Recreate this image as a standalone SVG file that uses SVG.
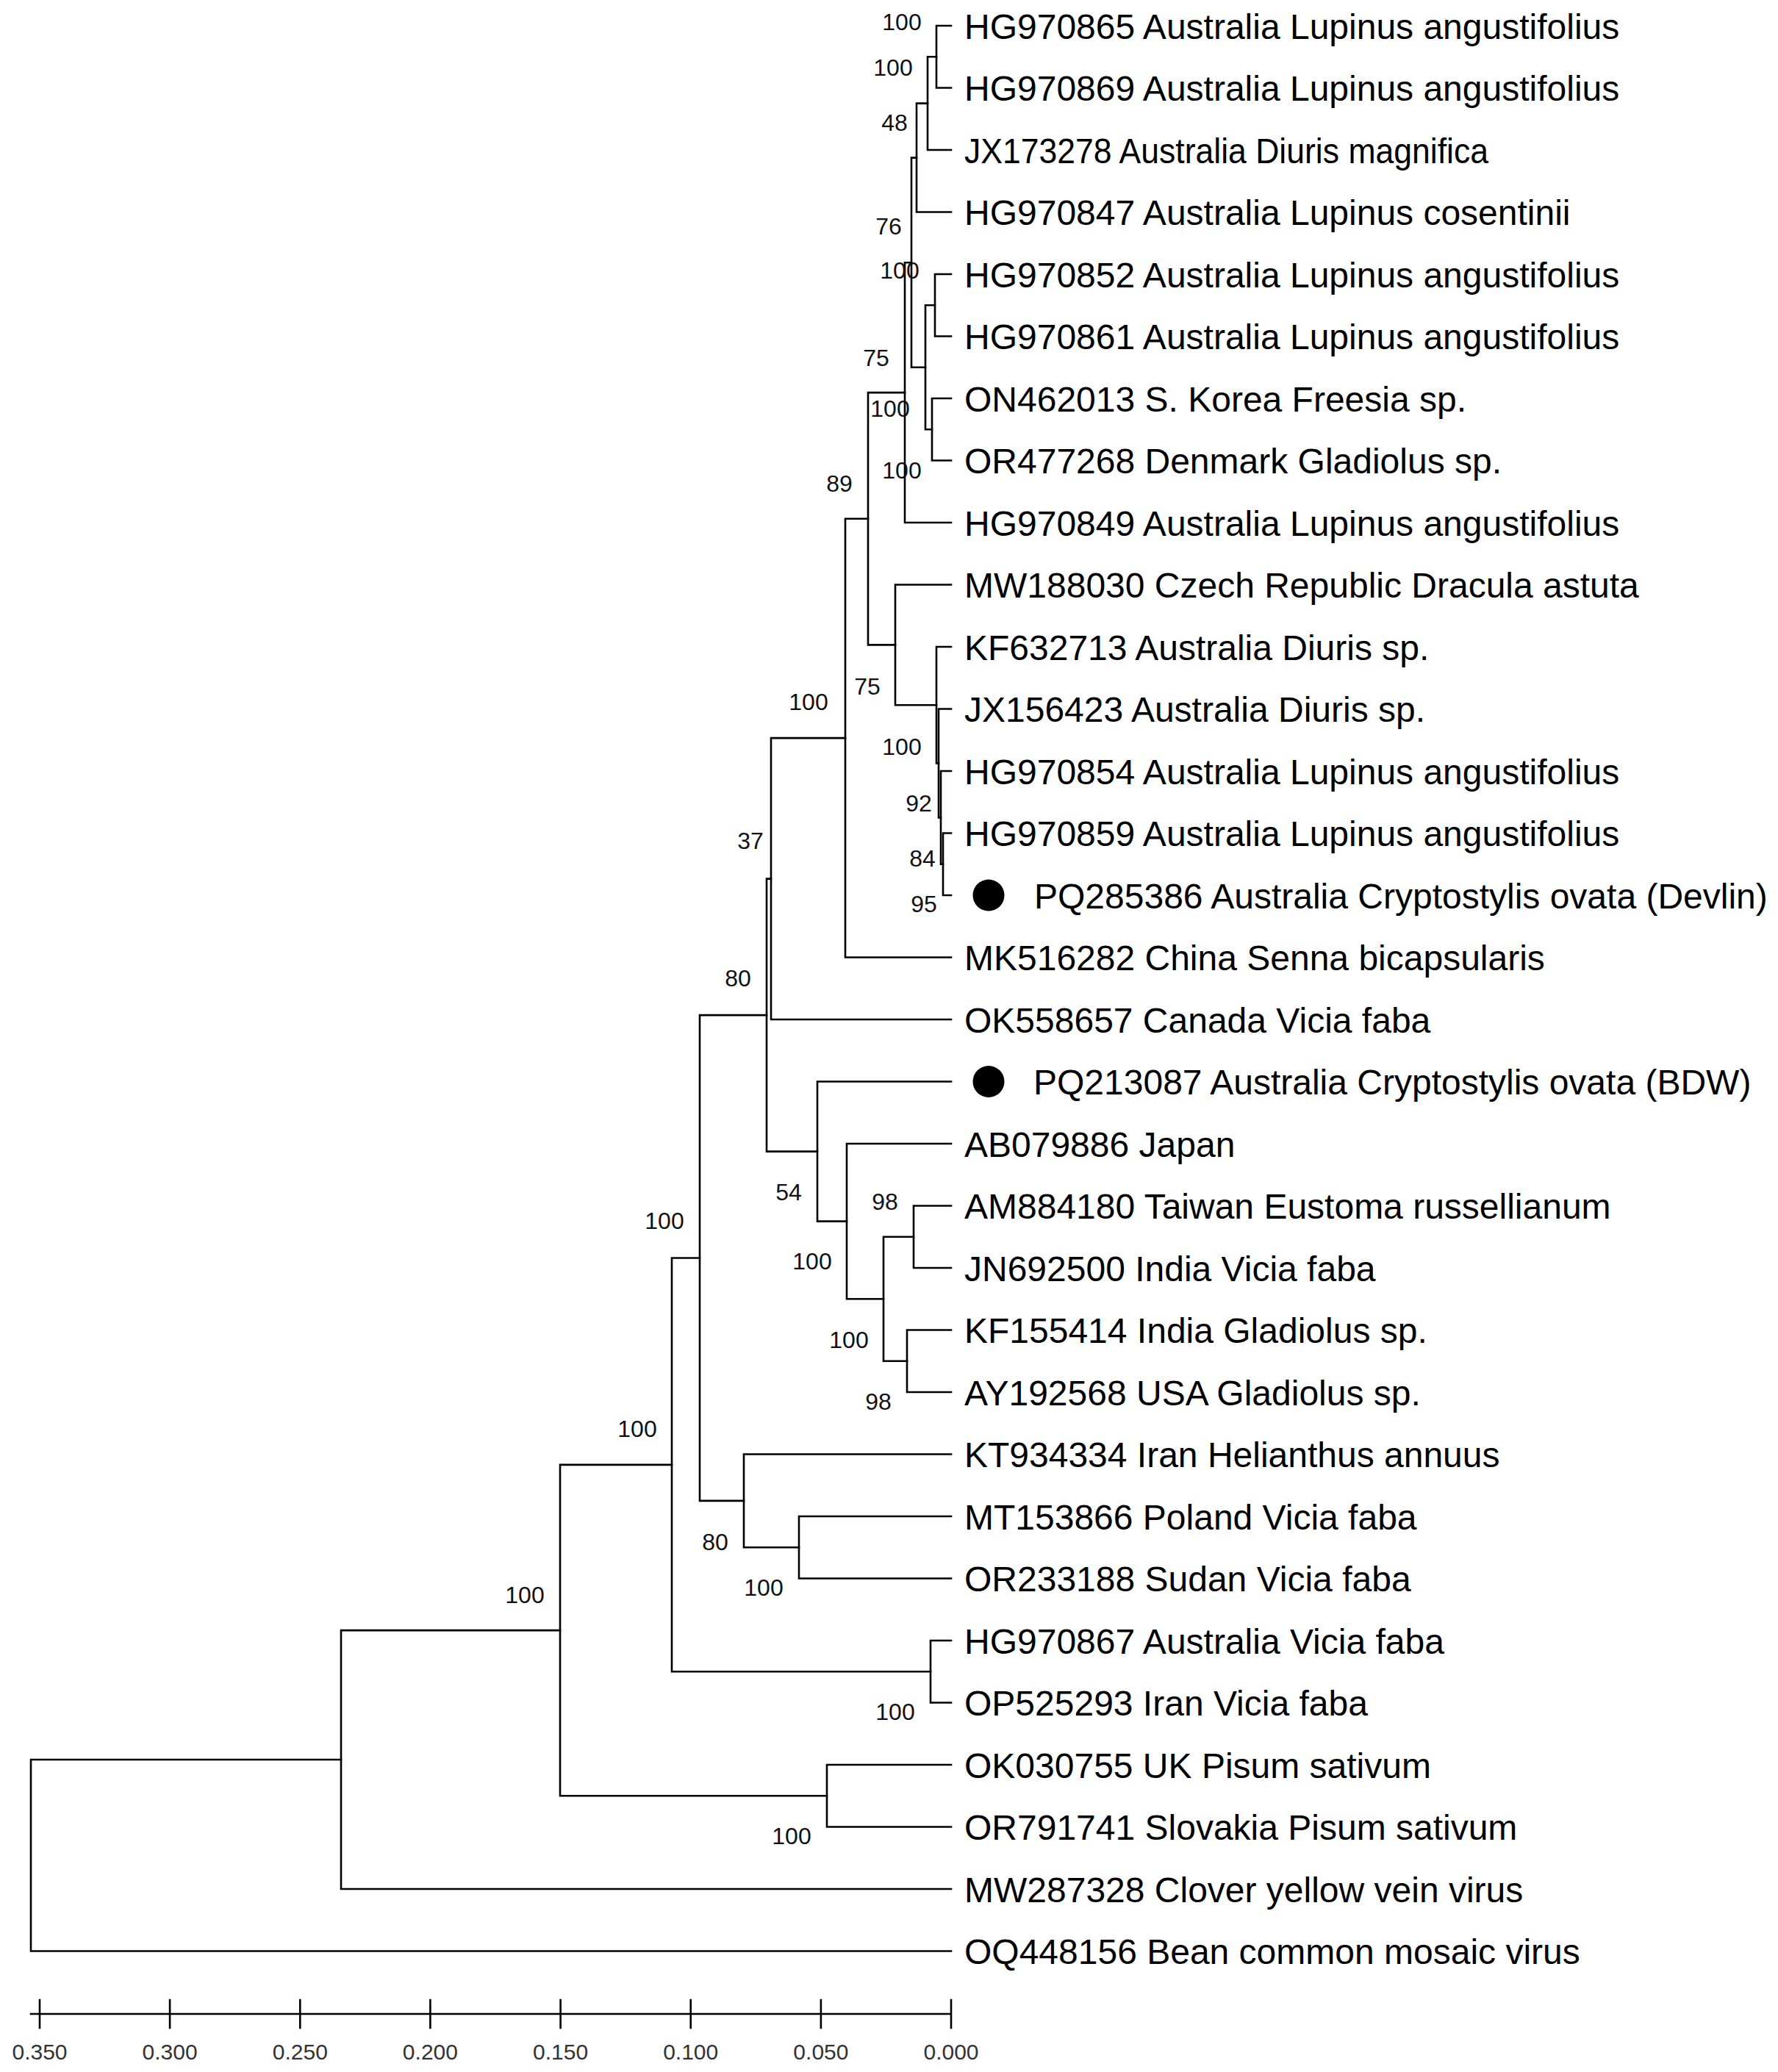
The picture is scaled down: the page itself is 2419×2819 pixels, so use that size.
<svg xmlns="http://www.w3.org/2000/svg" width="2419" height="2819" viewBox="0 0 2419 2819">
<style>
.br{fill:none;stroke:#000;stroke-width:2.6;stroke-linecap:square}
.tx{font-family:"Liberation Sans",Arial,sans-serif;font-size:48px;fill:#000}
.bs{font-family:"Liberation Sans",Arial,sans-serif;font-size:32px;fill:#111;text-anchor:middle}
.ax{font-family:"Liberation Sans",Arial,sans-serif;font-size:30px;fill:#333;text-anchor:middle}
.dot{fill:#000}
</style>
<rect width="2419" height="2819" fill="#fff"/>
<g id="connectors">
<path class="br" d="M1294 35 H1274 V119.5 H1294"/>
<path class="br" d="M1274 77.25 H1262 V204 H1294"/>
<path class="br" d="M1262 140.6 H1247 V288.5 H1294"/>
<path class="br" d="M1294 373 H1272 V457.5 H1294"/>
<path class="br" d="M1294 542 H1268 V626.5 H1294"/>
<path class="br" d="M1272 415.25 H1259 V584.25 H1268"/>
<path class="br" d="M1247 214.6 H1240 V499.75 H1259"/>
<path class="br" d="M1240 357.2 H1231 V711 H1294"/>
<path class="br" d="M1294 1133.5 H1283 V1218 H1294"/>
<path class="br" d="M1294 1049 H1280 V1175.75 H1283"/>
<path class="br" d="M1294 964.5 H1277 V1112.4 H1280"/>
<path class="br" d="M1294 880 H1274 V1038.4 H1277"/>
<path class="br" d="M1294 795.5 H1218 V959.2 H1274"/>
<path class="br" d="M1231 534.1 H1181 V877.4 H1218"/>
<path class="br" d="M1181 705.7 H1150 V1302.5 H1294"/>
<path class="br" d="M1150 1004.1 H1049 V1387 H1294"/>
<path class="br" d="M1294 1640.5 H1243 V1725 H1294"/>
<path class="br" d="M1294 1809.5 H1234 V1894 H1294"/>
<path class="br" d="M1243 1682.75 H1202 V1851.75 H1234"/>
<path class="br" d="M1294 1556 H1152 V1767.25 H1202"/>
<path class="br" d="M1294 1471.5 H1112 V1661.6 H1152"/>
<path class="br" d="M1049 1195.6 H1043 V1566.6 H1112"/>
<path class="br" d="M1294 2063 H1087 V2147.5 H1294"/>
<path class="br" d="M1294 1978.5 H1012 V2105.25 H1087"/>
<path class="br" d="M1043 1381.1 H952 V2041.9 H1012"/>
<path class="br" d="M1294 2232 H1266 V2316.5 H1294"/>
<path class="br" d="M952 1711.5 H914 V2274.25 H1266"/>
<path class="br" d="M1294 2401 H1125 V2485.5 H1294"/>
<path class="br" d="M914 1992.9 H762 V2443.25 H1125"/>
<path class="br" d="M762 2218.1 H464 V2570 H1294"/>
<path class="br" d="M464 2394 H42 V2654.5 H1294"/>
</g>
<g id="leaves">
<g id="leaf-HG970865"><text class="tx" x="1312" y="52.5">HG970865 Australia Lupinus angustifolius</text></g>
<g id="leaf-HG970869"><text class="tx" x="1312" y="137">HG970869 Australia Lupinus angustifolius</text></g>
<g id="leaf-JX173278"><text class="tx" x="1312" y="221.5" textLength="713" lengthAdjust="spacingAndGlyphs">JX173278 Australia Diuris magnifica</text></g>
<g id="leaf-HG970847"><text class="tx" x="1312" y="306">HG970847 Australia Lupinus cosentinii</text></g>
<g id="leaf-HG970852"><text class="tx" x="1312" y="390.5">HG970852 Australia Lupinus angustifolius</text></g>
<g id="leaf-HG970861"><text class="tx" x="1312" y="475">HG970861 Australia Lupinus angustifolius</text></g>
<g id="leaf-ON462013"><text class="tx" x="1312" y="559.5">ON462013 S. Korea Freesia sp.</text></g>
<g id="leaf-OR477268"><text class="tx" x="1312" y="644">OR477268 Denmark Gladiolus sp.</text></g>
<g id="leaf-HG970849"><text class="tx" x="1312" y="728.5">HG970849 Australia Lupinus angustifolius</text></g>
<g id="leaf-MW188030"><text class="tx" x="1312" y="813">MW188030 Czech Republic Dracula astuta</text></g>
<g id="leaf-KF632713"><text class="tx" x="1312" y="897.5">KF632713 Australia Diuris sp.</text></g>
<g id="leaf-JX156423"><text class="tx" x="1312" y="982">JX156423 Australia Diuris sp.</text></g>
<g id="leaf-HG970854"><text class="tx" x="1312" y="1066.5">HG970854 Australia Lupinus angustifolius</text></g>
<g id="leaf-HG970859"><text class="tx" x="1312" y="1151">HG970859 Australia Lupinus angustifolius</text></g>
<g id="leaf-PQ285386"><circle class="dot" cx="1345" cy="1218" r="21.5"/><text class="tx" x="1407" y="1235.5">PQ285386 Australia Cryptostylis ovata (Devlin)</text></g>
<g id="leaf-MK516282"><text class="tx" x="1312" y="1320">MK516282 China Senna bicapsularis</text></g>
<g id="leaf-OK558657"><text class="tx" x="1312" y="1404.5">OK558657 Canada Vicia faba</text></g>
<g id="leaf-PQ213087"><circle class="dot" cx="1345" cy="1471.5" r="21.5"/><text class="tx" x="1406" y="1489">PQ213087 Australia Cryptostylis ovata (BDW)</text></g>
<g id="leaf-AB079886"><text class="tx" x="1312" y="1573.5">AB079886 Japan</text></g>
<g id="leaf-AM884180"><text class="tx" x="1312" y="1658">AM884180 Taiwan Eustoma russellianum</text></g>
<g id="leaf-JN692500"><text class="tx" x="1312" y="1742.5">JN692500 India Vicia faba</text></g>
<g id="leaf-KF155414"><text class="tx" x="1312" y="1827">KF155414 India Gladiolus sp.</text></g>
<g id="leaf-AY192568"><text class="tx" x="1312" y="1911.5">AY192568 USA Gladiolus sp.</text></g>
<g id="leaf-KT934334"><text class="tx" x="1312" y="1996">KT934334 Iran Helianthus annuus</text></g>
<g id="leaf-MT153866"><text class="tx" x="1312" y="2080.5">MT153866 Poland Vicia faba</text></g>
<g id="leaf-OR233188"><text class="tx" x="1312" y="2165">OR233188 Sudan Vicia faba</text></g>
<g id="leaf-HG970867"><text class="tx" x="1312" y="2249.5">HG970867 Australia Vicia faba</text></g>
<g id="leaf-OP525293"><text class="tx" x="1312" y="2334">OP525293 Iran Vicia faba</text></g>
<g id="leaf-OK030755"><text class="tx" x="1312" y="2418.5">OK030755 UK Pisum sativum</text></g>
<g id="leaf-OR791741"><text class="tx" x="1312" y="2503">OR791741 Slovakia Pisum sativum</text></g>
<g id="leaf-MW287328"><text class="tx" x="1312" y="2587.5">MW287328 Clover yellow vein virus</text></g>
<g id="leaf-OQ448156"><text class="tx" x="1312" y="2672">OQ448156 Bean common mosaic virus</text></g>
</g>
<g id="bootstrap">
<g id="node-1"><text class="bs" x="1227" y="40.5">100</text></g>
<g id="node-2"><text class="bs" x="1215" y="102.5">100</text></g>
<g id="node-3"><text class="bs" x="1217" y="177.5">48</text></g>
<g id="node-4"><text class="bs" x="1209" y="318.5">76</text></g>
<g id="node-5"><text class="bs" x="1224" y="378.5">100</text></g>
<g id="node-6"><text class="bs" x="1192" y="497.5">75</text></g>
<g id="node-7"><text class="bs" x="1211" y="566.5">100</text></g>
<g id="node-8"><text class="bs" x="1227" y="650.5">100</text></g>
<g id="node-9"><text class="bs" x="1142" y="668.5">89</text></g>
<g id="node-10"><text class="bs" x="1180" y="944.5">75</text></g>
<g id="node-11"><text class="bs" x="1227" y="1026.5">100</text></g>
<g id="node-12"><text class="bs" x="1250" y="1103.5">92</text></g>
<g id="node-13"><text class="bs" x="1255" y="1178.5">84</text></g>
<g id="node-14"><text class="bs" x="1257" y="1240.5">95</text></g>
<g id="node-15"><text class="bs" x="1100" y="965.5">100</text></g>
<g id="node-16"><text class="bs" x="1021" y="1154.5">37</text></g>
<g id="node-17"><text class="bs" x="1004" y="1341.5">80</text></g>
<g id="node-18"><text class="bs" x="1073" y="1632.5">54</text></g>
<g id="node-19"><text class="bs" x="1204" y="1645.5">98</text></g>
<g id="node-20"><text class="bs" x="1105" y="1726.5">100</text></g>
<g id="node-21"><text class="bs" x="1155" y="1833.5">100</text></g>
<g id="node-22"><text class="bs" x="1195" y="1917.5">98</text></g>
<g id="node-23"><text class="bs" x="904" y="1671.5">100</text></g>
<g id="node-24"><text class="bs" x="973" y="2108.5">80</text></g>
<g id="node-25"><text class="bs" x="1039" y="2170.5">100</text></g>
<g id="node-26"><text class="bs" x="867" y="1954.5">100</text></g>
<g id="node-27"><text class="bs" x="714" y="2180.5">100</text></g>
<g id="node-28"><text class="bs" x="1218" y="2339.5">100</text></g>
<g id="node-29"><text class="bs" x="1077" y="2508.5">100</text></g>
</g>
<g id="scale">
<path class="br" d="M42 2740 H1294 M54 2721 V2759 M231.1 2721 V2759 M408.3 2721 V2759 M585.4 2721 V2759 M762.6 2721 V2759 M939.7 2721 V2759 M1116.9 2721 V2759 M1294 2721 V2759"/>
<text class="ax" x="54" y="2802">0.350</text>
<text class="ax" x="231.1" y="2802">0.300</text>
<text class="ax" x="408.3" y="2802">0.250</text>
<text class="ax" x="585.4" y="2802">0.200</text>
<text class="ax" x="762.6" y="2802">0.150</text>
<text class="ax" x="939.7" y="2802">0.100</text>
<text class="ax" x="1116.9" y="2802">0.050</text>
<text class="ax" x="1294" y="2802">0.000</text>
</g>
</svg>
